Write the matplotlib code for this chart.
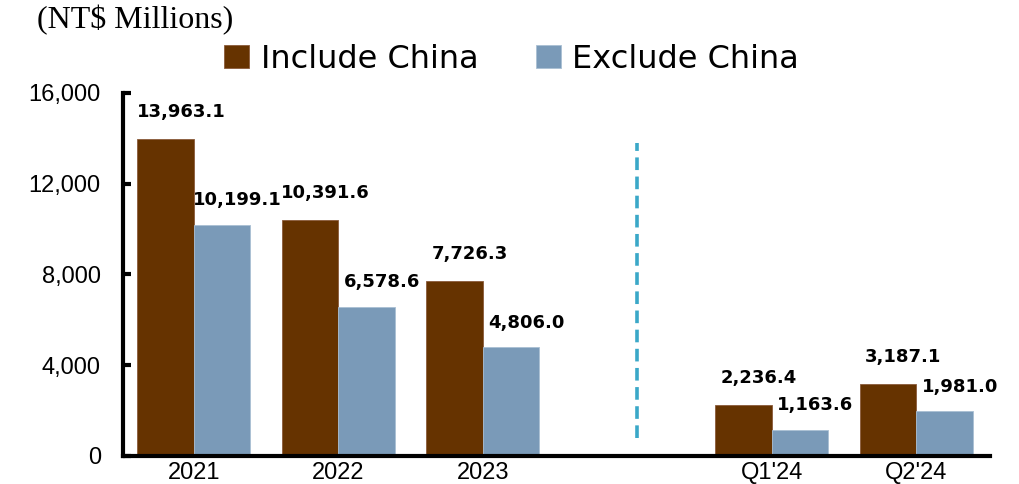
import numpy as np
import matplotlib.pyplot as plt

# chart data
periods = ["2021", "2022", "2023", "Q1'24", "Q2'24"]
slots = [0, 1, 2, 4, 5]  # gap left empty between years and quarters
include_china = [13963.1, 10391.6, 7726.3, 2236.4, 3187.1]
exclude_china = [10199.1, 6578.6, 4806.0, 1163.6, 1981.0]
yticks = [0, 4000, 8000, 12000, 16000]
series_names = ["Include China", "Exclude China"]

brown = "#663300"
blue = "#7A9AB8"
teal = "#3AA8C8"


def main():
    fig = plt.figure(figsize=(10.19, 4.84), dpi=100)
    ax = fig.add_axes([0.1207, 0.0579, 0.8508, 0.7500])

    x = np.array(slots, dtype=float)
    w = 0.39
    b1 = ax.bar(x - w / 2, include_china, w, color=brown, edgecolor="#8a5a3a",
                linewidth=0.6, label=series_names[0], zorder=2)
    b2 = ax.bar(x + w / 2, exclude_china, w, color=blue, edgecolor="#a9bfd3",
                linewidth=0.6, label=series_names[1], zorder=2)

    # value labels above the bars
    for bars, vals, dy in [(b1, include_china, 13), (b2, exclude_china, 11)]:
        for rect, v in zip(bars, vals):
            ax.annotate(f"{v:,.1f}", (rect.get_x() + rect.get_width() / 2, v),
                        xytext=(11, dy), textcoords="offset points",
                        ha="center", va="bottom", fontsize=13,
                        fontweight="bold", family="DejaVu Sans", zorder=3)

    # divider between annual and quarterly data
    ax.plot([3.07, 3.07], [800, 13800], color=teal, linestyle=(0, (3.5, 1.8)),
            linewidth=2.6, zorder=1)

    ax.set_xlim(-0.49, 5.51)
    ax.set_ylim(0, 16000)
    ax.set_yticks(yticks)
    ax.set_yticklabels([f"{t:,}" for t in yticks])
    ax.set_xticks(x)
    ax.set_xticklabels(periods)

    for s in ["top", "right"]:
        ax.spines[s].set_visible(False)
    ax.spines["left"].set_linewidth(3)
    ax.spines["bottom"].set_linewidth(3)
    ax.tick_params(axis="y", direction="in", length=6, width=3, pad=16,
                   labelsize=17)
    ax.tick_params(axis="x", length=0, pad=4, labelsize=17)
    for lab in ax.get_xticklabels() + ax.get_yticklabels():
        lab.set_family("Liberation Sans")

    fig.legend(handles=[b1, b2], labels=series_names, loc="center",
               bbox_to_anchor=(0.502, 0.878), ncol=2, frameon=False,
               prop={"family": "DejaVu Sans", "size": 23},
               handlelength=0.8, handleheight=0.7, handletextpad=0.35,
               columnspacing=1.8, borderaxespad=0)

    fig.text(0.036, 0.958, "(NT$ Millions)", family="Liberation Serif",
             fontsize=23, ha="left", va="center")

    fig.savefig("out.png", dpi=100)


if __name__ == "__main__":
    main()
